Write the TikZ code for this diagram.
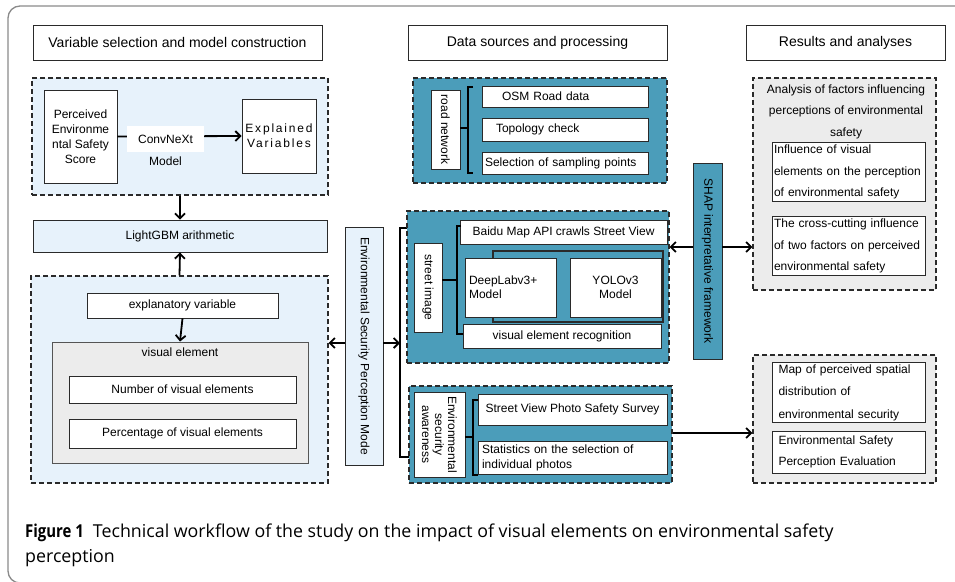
\documentclass[tikz,border=0pt]{standalone}
\usepackage{fontspec}
\setmainfont{Liberation Sans}
\newfontfamily\capfont[BoldFeatures={FakeStretch=0.84}]{Open Sans}
\newfontfamily\spacedfont[LetterSpace=15]{Liberation Sans}
\usetikzlibrary{arrows.meta}

\definecolor{paleblue}{HTML}{E7F2FB}
\definecolor{tealfill}{HTML}{4B9DBA}
\definecolor{greyfill}{HTML}{ECECEC}
\definecolor{framegrey}{HTML}{8A8A8A}
\definecolor{inkdark}{HTML}{2A2A2A}

\tikzset{
  box/.style={draw=inkdark, line width=0.9pt, fill=white, inner sep=2pt,
    font=\fontsize{12}{14}\selectfont, align=center},
  headbox/.style={box, font=\fontsize{14}{16}\selectfont},
  dashregion/.style={draw=inkdark, line width=1.3pt, dash pattern=on 5pt off 3pt},
  vbox/.style={box, rotate=-90},
  arr/.style={line width=1.8pt, -{Straight Barb[length=5pt,width=10pt,line width=1.8pt]}},
  brace/.style={line width=1.8pt, black},
  plain/.style={inner sep=0pt, font=\fontsize{12}{14}\selectfont, align=center}
}

\begin{document}
\begin{tikzpicture}[x=1pt, y=-1pt]
\useasboundingbox (0,0) rectangle (955,581);

% outer frame of the figure
\begin{scope}
\clip (0,0) rectangle (955,581);
\draw[framegrey, line width=1.3pt, rounded corners=12pt] (1000,6) -- (8,6) -- (8,583) -- (1000,583);
\end{scope}

% ---------- column headers ----------
\node[headbox, minimum width=289pt, minimum height=35pt] (h1) at (177.5,42.5) {Variable selection and model construction};
\node[headbox, minimum width=259pt, minimum height=35pt] (h2) at (537.5,42.5) {Data sources and processing};
\node[headbox, minimum width=199pt, minimum height=35pt] (h3) at (845.5,42.5) {Results and analyses};

% ---------- left column ----------
\node[dashregion, fill=paleblue, minimum width=296pt, minimum height=117pt] (d1) at (180,136.5) {};
\node[box, minimum width=73pt, minimum height=93pt, font=\fontsize{12}{15}\selectfont] (pes) at (80.5,136.5)
  {Perceived\\Environme\\ntal Safety\\Score};
\node[box, minimum width=74pt, minimum height=74pt, font=\fontsize{12}{15}\selectfont\spacedfont] (ev) at (279,136)
  {Explained\\Variables};
\draw[arr] (pes.east) -- (ev.west);
\node[plain, fill=white, minimum width=77pt, minimum height=26pt,
  label={[plain, anchor=north, yshift=-4pt]south:Model}] (cnx) at (165.5,139) {ConvNeXt};

\node[box, fill=paleblue, minimum width=294pt, minimum height=32pt] (lgbm) at (180,236) {LightGBM arithmetic};
\draw[arr] (d1.south) -- (lgbm.north);

\node[dashregion, fill=paleblue, minimum width=297pt, minimum height=207pt] (d2) at (179.5,379.5) {};
\draw[arr] (d2.north) -- (lgbm.south);
\node[box, minimum width=191pt, minimum height=25pt] (xv) at (182.5,305.5) {explanatory variable};
\node[box, draw=inkdark!80, fill=greyfill, minimum width=256pt, minimum height=121pt,
  label={[plain, anchor=north, yshift=-6pt]north:visual element}] (ve) at (180,402.5) {};
\draw[arr] (xv.south) -- (ve.north);
\node[box, minimum width=227pt, minimum height=27pt] (nv) at (182.5,389.5) {Number of visual elements};
\node[box, minimum width=227pt, minimum height=29pt] (pv) at (182.5,433.5) {Percentage of visual elements};

% ---------- perception model bar ----------
\node[vbox, fill=paleblue, minimum width=238pt, minimum height=38pt] (espm) at (364,346)
  {Environmental Security Perception Mode};
\coordinate (lk) at (364,343);
\draw[arr] (lk -| espm.south) -- (lk -| d2.east);
\coordinate (bt) at (400,228);
\coordinate (bb) at (400,457);
\draw[brace] (407,228) -- (bt) -- (bb) -- (409,457);
\draw[arr] (lk -| espm.north) -- (lk -| bt);

% ---------- road network ----------
\node[dashregion, fill=tealfill, minimum width=254pt, minimum height=105pt] (d0) at (540,130.5) {};
\node[vbox, minimum width=79pt, minimum height=29pt] (rn) at (445.5,129.5) {road network};
\node[box, minimum width=166pt, minimum height=21pt, text width=150pt, align=left] (osm) at (565,96.5) {\hspace*{12pt}OSM Road data};
\node[box, minimum width=166pt, minimum height=23pt, text width=150pt, align=left] (tc) at (565,129.5) {\hspace*{6pt}Topology check};
\node[box, minimum width=166pt, minimum height=22pt, text width=160pt, align=left] (sp) at (565,163) {Selection of sampling points};
\draw[brace] (473,87) -- (468,87) -- (468,173) -- (473,173);
\draw[brace] (rn.north |- 0,128) -- (468,128);

% ---------- street image ----------
\node[dashregion, fill=tealfill, minimum width=262pt, minimum height=152pt] (d3) at (538,287) {};
\node[vbox, minimum width=89pt, minimum height=28pt] (si) at (428,287.5) {street image};
\node[box, minimum width=207pt, minimum height=24pt] (bd) at (563.5,232) {Baidu Map API crawls Street View};
\draw[line width=2pt, inkdark] (493,251) rectangle (663,322);
\node[box, minimum width=91pt, minimum height=59pt, text width=83pt, align=left] (dl) at (510.5,287.5) {DeepLabv3+\\Model};
\node[box, minimum width=91pt, minimum height=59pt] (yl) at (615.5,287.5) {YOLOv3\\Model};
\node[box, minimum width=198pt, minimum height=24pt] (vr) at (562,336) {visual element recognition};
\draw[brace] (461,226) -- (457,226) -- (457,334) -- (463,334);
\draw[brace] (si.north |- 0,280) -- (457,280);

% ---------- environmental security awareness ----------
\node[dashregion, fill=tealfill, minimum width=263pt, minimum height=97pt] (d4) at (540.5,434.5) {};
\node[vbox, minimum width=85pt, minimum height=51pt, font=\fontsize{12}{13}\selectfont] (ea) at (439.5,434.5)
  {Environmental\\security\\awareness};
\node[box, minimum width=189pt, minimum height=31pt] (sv) at (572.5,409.5) {Street View Photo Safety Survey};
\node[box, minimum width=189pt, minimum height=33pt, text width=181pt, align=left, font=\fontsize{12}{15}\selectfont] (st) at (572.5,457.5)
  {Statistics on the selection of\\individual photos};
\draw[brace] (478,400) -- (473,400) -- (473,475) -- (478,475);
\draw[brace] (ea.north |- 0,437) -- (473,437);

% ---------- SHAP ----------
\node[vbox, fill=tealfill, minimum width=196pt, minimum height=29pt] (shap) at (707.5,261) {SHAP interpretative framework};

% ---------- results ----------
\node[dashregion, fill=greyfill, minimum width=183pt, minimum height=212pt] (r1) at (844.5,184) {};
\node[plain, font=\fontsize{12}{21.5}\selectfont] (r1t) at (846,111.5)
  {Analysis of factors influencing\\perceptions of environmental\\safety};
\node[box, minimum width=153pt, minimum height=58pt, text width=149pt, align=left, font=\fontsize{12}{21.5}\selectfont] (iv) at (848.5,172)
  {Influence of visual\\elements on the perception\\of environmental safety};
\node[box, minimum width=153pt, minimum height=58pt, text width=149pt, align=left, font=\fontsize{12}{21.5}\selectfont] (cc) at (848.5,246)
  {The cross-cutting influence\\of two factors on perceived\\environmental safety};

\node[dashregion, fill=greyfill, minimum width=183pt, minimum height=128pt] (r2) at (844.5,419) {};
\node[box, minimum width=153pt, minimum height=59pt, text width=140pt, align=left, font=\fontsize{12}{22.5}\selectfont] (mp) at (848.5,392.5)
  {Map of perceived spatial\\distribution of\\environmental security};
\node[box, minimum width=153pt, minimum height=42pt, text width=140pt, align=left, font=\fontsize{12}{21.5}\selectfont] (ep) at (848.5,452)
  {Environmental Safety\\Perception Evaluation};

% ---------- connectors between columns ----------
\coordinate (sy) at (707.5,247);
\draw[arr] (sy -| shap.south) -- (sy -| d3.east);
\draw[arr] (sy -| shap.north) -- (sy -| r1.west);
\coordinate (ey) at (700,433);
\draw[arr] (ey -| d4.east) -- (ey -| r2.west);

% ---------- caption (base anchor sits on the last line) ----------
\node[anchor=base west, inner sep=0pt, font=\fontsize{17.8}{25}\selectfont\capfont, align=left] (cap) at (25,562)
  {{\bfseries Figure 1}\hspace{9pt}Technical workflow of the study on the impact of visual elements on environmental safety\\perception};
\end{tikzpicture}
\end{document}
